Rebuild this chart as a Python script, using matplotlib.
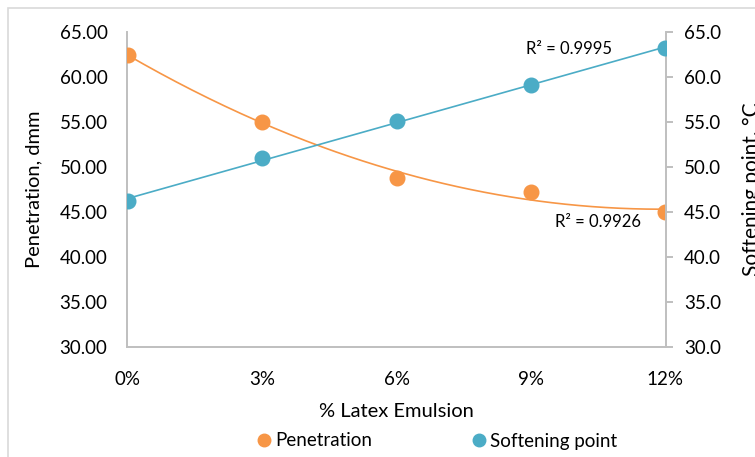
import numpy as np
import matplotlib
matplotlib.use("Agg")
from matplotlib import pyplot as plt
from matplotlib.patches import Rectangle
from matplotlib.lines import Line2D

# datos
latex = ['0%', '3%', '6%', '9%', '12%']
penetration = [62.5, 55.0, 48.8, 47.2, 45.0]
softening = [46.2, 51.0, 55.1, 59.1, 63.2]
r2_pen = 'R² = 0.9926'
r2_soft = 'R² = 0.9995'

orange = '#F79646'
blue = '#4BACC6'
grey = '#BFBFBF'

plt.rcParams['font.family'] = ['Lato', 'DejaVu Sans']

fig = plt.figure(figsize=(7.55, 4.57), dpi=100)
fig.patches.append(Rectangle((8 / 755, -0.1), 1.2, 1.1 - 8 / 457, transform=fig.transFigure,
                             fill=False, edgecolor='#D9D9D9', linewidth=1.2))

ax = fig.add_axes([127 / 755, 1 - 347 / 457, (666 - 127) / 755, (347 - 32) / 457])
ax2 = ax.twinx()

x = np.arange(len(latex))

# linea de tendencia polinomica (orden 2) para penetracion
xs = np.linspace(x[0], x[-1], 200)
c_pen = np.polyfit(x, penetration, 2)
ax.plot(xs, np.polyval(c_pen, xs), color=orange, lw=1.2, zorder=2)
ax.plot(x, penetration, 'o', color=orange, ms=10.5, zorder=3)

# tendencia lineal para el punto de reblandecimiento
c_soft = np.polyfit(x, softening, 1)
ax2.plot(xs, np.polyval(c_soft, xs), color=blue, lw=1.2, zorder=2)
ax2.plot(x, softening, 'o', color=blue, ms=10.5, zorder=3)

for a in (ax, ax2):
    a.set_ylim(30, 65)
    a.set_xlim(-0.005, 4.005)
    a.set_yticks(np.arange(30, 66, 5))
    for s in a.spines.values():
        s.set_visible(False)
    a.set_facecolor('none')

ax.spines['left'].set_visible(True)
ax.spines['bottom'].set_visible(True)
ax.spines['left'].set_color(grey)
ax.spines['bottom'].set_color(grey)
ax.spines['left'].set_linewidth(1.4)
ax.spines['bottom'].set_linewidth(1.4)
ax2.spines['right'].set_visible(True)
ax2.spines['right'].set_color(grey)
ax2.spines['right'].set_linewidth(1.4)

ax.set_yticklabels(['%.2f' % v for v in np.arange(30, 66, 5)])
ax2.set_yticklabels(['%.1f' % v for v in np.arange(30, 66, 5)])
ax.tick_params(axis='y', length=0, pad=14, labelsize=13.5, colors='#000000')
ax2.tick_params(axis='y', length=5, width=1.4, color=grey, pad=8, labelsize=13.5)
ax.set_xticks(x)
ax.set_xticklabels(latex)
ax.tick_params(axis='x', length=0, pad=17, labelsize=13.5)

ax.set_xlabel('% Latex Emulsion', fontsize=14.5, labelpad=11)
ax.set_ylabel('Penetration, dmm', fontsize=14.5, labelpad=12)
ax2.set_ylabel('Softening point, °C', fontsize=15, labelpad=15)

ax.text(0.82, 0.945, r2_soft, transform=ax.transAxes, fontsize=12, ha='center', va='center')
ax.text(0.874, 0.397, r2_pen, transform=ax.transAxes, fontsize=12, ha='center', va='center')

handles = [Line2D([], [], ls='none', marker='o', color=orange, ms=9),
           Line2D([], [], ls='none', marker='o', color=blue, ms=9)]
fig.legend(handles, ['Penetration', 'Softening point'], loc='center', ncol=2,
           bbox_to_anchor=(436 / 755, 1 - 441 / 457), frameon=False, fontsize=13.5,
           handletextpad=0.1, columnspacing=5.2, handlelength=1.0)

fig.savefig('out.png', dpi=100)
